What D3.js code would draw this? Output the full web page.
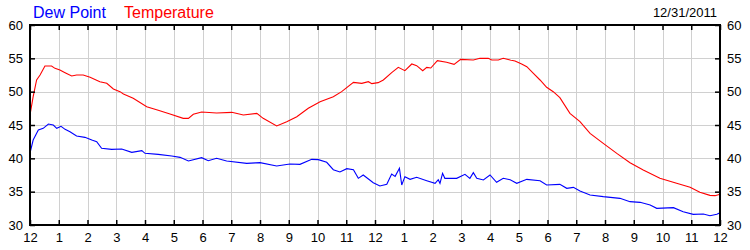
<!DOCTYPE html>
<html>
<head>
<meta charset="utf-8">
<script src="https://cdn.jsdelivr.net/npm/d3@7"></script>
<style>
body{margin:0;background:#fff}
svg{display:block;font-family:"Liberation Sans",Arial,sans-serif}
</style>
</head>
<body>
<svg id="chart"></svg>
<script>
// hours since midnight, 12/31/2011
var tempHours = [0.02,0.11,0.23,0.35,0.52,0.75,0.87,1.04,1.22,1.45,1.62,1.85,2.09,2.43,2.67,2.90,3.13,3.25,3.59,4.06,4.46,4.87,5.33,5.51,5.68,5.97,6.49,7.02,7.42,7.89,8.11,8.58,8.93,9.28,9.68,10.09,10.55,10.84,11.25,11.54,11.77,11.89,12.11,12.29,12.58,12.81,13.04,13.28,13.45,13.66,13.80,13.94,14.17,14.49,14.75,14.98,15.42,15.65,15.94,16.06,16.29,16.46,16.70,16.87,17.10,17.28,17.51,17.74,17.97,18.20,18.43,18.78,19.13,19.48,19.94,20.41,20.87,21.33,21.91,22.49,22.96,23.30,23.65,23.83,24.0]
var tempValues = [47.0,49.25,51.75,52.5,53.85,53.85,53.5,53.25,52.85,52.35,52.5,52.5,52.15,51.5,51.25,50.4,50.0,49.65,49.0,47.75,47.2,46.65,46.0,46.0,46.6,46.95,46.8,46.9,46.5,46.75,46.0,44.85,45.5,46.25,47.5,48.5,49.25,50.0,51.4,51.25,51.5,51.2,51.35,51.75,52.85,53.65,53.15,54.15,53.9,53.15,53.65,53.55,54.65,54.4,54.1,54.85,54.75,55.0,55.0,54.75,54.75,55.0,54.75,54.6,54.15,53.75,52.75,51.75,50.65,50.0,49.1,46.75,45.5,43.75,42.25,40.75,39.35,38.25,37.0,36.25,35.65,34.9,34.45,34.4,34.6]

var dewHours = [0.0,0.11,0.29,0.46,0.64,0.81,0.93,1.08,1.22,1.39,1.62,1.91,2.15,2.32,2.49,2.84,3.19,3.54,3.89,4.0,4.46,4.93,5.22,5.51,5.97,6.20,6.49,6.84,7.54,8.0,8.58,9.04,9.39,9.80,10.03,10.32,10.55,10.78,11.02,11.25,11.42,11.59,11.94,12.17,12.41,12.58,12.70,12.85,12.93,13.04,13.22,13.45,13.80,14.09,14.20,14.26,14.35,14.43,14.84,15.13,15.30,15.42,15.54,15.77,16.0,16.23,16.46,16.70,16.93,17.28,17.74,17.97,18.43,18.67,18.90,19.13,19.48,19.94,20.52,20.87,21.22,21.57,21.80,22.38,22.72,23.07,23.42,23.65,23.89,24.0]
var dewValues = [40.8,42.75,44.25,44.5,45.15,45.0,44.5,44.8,44.35,44.0,43.35,43.15,42.75,42.5,41.5,41.35,41.4,40.9,41.15,40.75,40.6,40.35,40.15,39.6,40.1,39.65,40.0,39.6,39.25,39.35,38.85,39.15,39.1,39.85,39.8,39.4,38.3,37.95,38.45,38.3,37.0,37.5,36.35,35.85,36.1,37.65,37.3,38.5,36.0,37.25,36.85,37.15,36.65,36.25,36.8,36.25,37.75,37.0,37.0,37.6,37.0,37.85,37.0,36.75,37.5,36.4,37.0,36.8,36.25,36.85,36.65,36.0,36.1,35.5,35.65,35.1,34.5,34.25,34.0,33.5,33.4,33.0,32.5,32.6,32.0,31.6,31.65,31.4,31.6,31.85]

var yTicks = [30,35,40,45,50,55,60]
var hourTicks = d3.range(0,25)
var dateLabel = "12/31/2011"

var W = 750, H = 250
var pLeft = 30, pRight = 720, pTop = 25, pBottom = 225

var svg = d3.select("#chart")
    .attr("width",W)
    .attr("height",H)

var x = d3.scaleLinear().domain([0,24]).range([pLeft,pRight])
var y = d3.scaleLinear().domain([30,60]).range([pBottom,pTop])

// grid
var grid = svg.append("g").attr("stroke","#d0d0d0").attr("stroke-width",1)
grid.selectAll(".vg").data(hourTicks.slice(1,-1)).enter()
    .append("line")
    .attr("x1",d=>Math.round(x(d))+0.5).attr("x2",d=>Math.round(x(d))+0.5)
    .attr("y1",pTop).attr("y2",pBottom)
grid.selectAll(".hg").data(yTicks.slice(1,-1)).enter()
    .append("line")
    .attr("y1",d=>Math.round(y(d))+0.5).attr("y2",d=>Math.round(y(d))+0.5)
    .attr("x1",pLeft).attr("x2",pRight)

// lines
var tempData = tempHours.map((h,i)=>({h:h,v:tempValues[i]}))
var dewData = dewHours.map((h,i)=>({h:h,v:dewValues[i]}))
var line = d3.line().x(d=>x(d.h)).y(d=>y(d.v))

svg.append("path").datum(dewData)
    .attr("fill","none").attr("stroke","#0000ff").attr("stroke-width",1.1)
    .attr("d",line)
svg.append("path").datum(tempData)
    .attr("fill","none").attr("stroke","#ff0000").attr("stroke-width",1.1)
    .attr("d",line)

// axes
var hourFmt = d=>{ var h=d%12; return h===0?"12":String(h) }

var xb = svg.append("g").attr("transform",`translate(0,${pBottom})`)
    .call(d3.axisBottom(x).tickValues(hourTicks).tickSizeInner(-5).tickSizeOuter(0).tickPadding(8).tickFormat(hourFmt))
var xt = svg.append("g").attr("transform",`translate(0,${pTop})`)
    .call(d3.axisTop(x).tickValues(hourTicks).tickSizeInner(-5).tickSizeOuter(0).tickFormat(""))
var yl = svg.append("g").attr("transform",`translate(${pLeft},0)`)
    .call(d3.axisLeft(y).tickValues(yTicks).tickSizeInner(-5).tickSizeOuter(0).tickPadding(7))
var yr = svg.append("g").attr("transform",`translate(${pRight},0)`)
    .call(d3.axisRight(y).tickValues(yTicks).tickSizeInner(-5).tickSizeOuter(0).tickPadding(7))

;[xb,xt,yl,yr].forEach(g=>{
  g.select(".domain").remove()
  g.selectAll(".tick line").attr("stroke","#000").attr("stroke-width",1.5)
  g.selectAll("text").attr("font-size","13px").attr("fill","#000")
    .attr("font-family",'"Liberation Sans",Arial,sans-serif')
})

// frame
svg.append("rect")
    .attr("x",pLeft).attr("y",pTop)
    .attr("width",pRight-pLeft).attr("height",pBottom-pTop)
    .attr("fill","none").attr("stroke","#000").attr("stroke-width",2)

// legend and date
svg.append("text").attr("x",33).attr("y",18)
    .attr("font-size","16px").attr("fill","#0000ff").text("Dew Point")
svg.append("text").attr("x",124).attr("y",18)
    .attr("font-size","16px").attr("fill","#ff0000").text("Temperature")
svg.append("text").attr("x",717).attr("y",17)
    .attr("font-size","13px").attr("fill","#000").style("text-anchor","end").text(dateLabel)
</script>
</body>
</html>
